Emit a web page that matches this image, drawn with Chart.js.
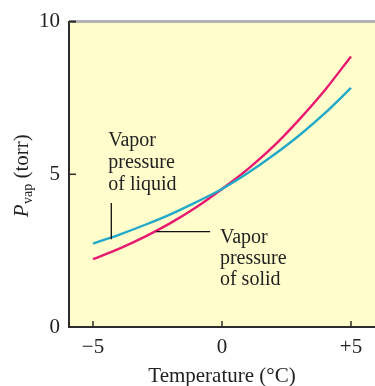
<!DOCTYPE html>
<html>
<head>
<meta charset="utf-8">
<script src="https://cdn.jsdelivr.net/npm/chart.js@4"></script>
<style>
  html, body { margin: 0; padding: 0; background: #ffffff; }
  #wrap { width: 375px; height: 386px; }
</style>
</head>
<body>
<div id="wrap"><canvas id="c" width="375" height="386"></canvas></div>
<script>
// Data
const temperatures = [-5, -4, -3, -2, -1, 0, 1, 2, 3, 4, 5];
const liquidPressure = [2.73, 3.02, 3.34, 3.69, 4.09, 4.52, 5.04, 5.63, 6.28, 7.01, 7.83];
const solidPressure  = [2.22, 2.56, 2.95, 3.40, 3.92, 4.52, 5.17, 5.92, 6.80, 7.77, 8.86];
const xTickValues = [-5, 0, 5];
const xTickLabels = ['\u22125', '0', '+5'];
const yTickValues = [0, 5, 10];
const yTickLabels = ['0', '5', '10'];
const seriesNames = ['Vapor pressure of liquid', 'Vapor pressure of solid'];
const liquidNote = ['Vapor', 'pressure', 'of liquid'];
const solidNote = ['Vapor', 'pressure', 'of solid'];

const SERIF = '"Liberation Serif", "DejaVu Serif", serif';
const AXIS = '#2b2b2b';
const TEXT = '#222222';

const toPts = (ys) => temperatures.map((t, i) => ({ x: t, y: ys[i] }));

const decor = {
  id: 'decor',
  beforeDraw(chart) {
    const { ctx, chartArea: a } = chart;
    ctx.save();
    ctx.fillStyle = '#fffdcc';
    ctx.fillRect(a.left, a.top, a.right - a.left, a.bottom - a.top);
    ctx.restore();
  },
  afterDraw(chart) {
    const { ctx, chartArea: a, scales } = chart;
    const xs = scales.x, ys = scales.y;
    ctx.save();
    // top gray border
    ctx.strokeStyle = '#b2b2b2';
    ctx.lineWidth = 3;
    ctx.beginPath();
    ctx.moveTo(a.left, a.top);
    ctx.lineTo(a.right, a.top);
    ctx.stroke();
    // inner ticks
    ctx.strokeStyle = AXIS;
    ctx.lineWidth = 1.5;
    xTickValues.forEach(v => {
      const px = xs.getPixelForValue(v);
      ctx.beginPath();
      ctx.moveTo(px, a.bottom);
      ctx.lineTo(px, a.bottom - 6);
      ctx.stroke();
    });
    yTickValues.forEach(v => {
      if (v === 0) return;
      const py = ys.getPixelForValue(v);
      ctx.lineWidth = v === 10 ? 2 : 1.5;
      ctx.beginPath();
      ctx.moveTo(a.left, py);
      ctx.lineTo(a.left + 7, py);
      ctx.stroke();
    });
    // annotations (leader lines in data coordinates)
    ctx.strokeStyle = '#111';
    ctx.lineWidth = 1.3;
    ctx.beginPath();
    ctx.moveTo(xs.getPixelForValue(-4.29), ys.getPixelForValue(4.06));
    ctx.lineTo(xs.getPixelForValue(-4.29), ys.getPixelForValue(2.87));
    ctx.stroke();
    ctx.beginPath();
    ctx.moveTo(xs.getPixelForValue(-2.55), ys.getPixelForValue(3.12));
    ctx.lineTo(xs.getPixelForValue(-0.46), ys.getPixelForValue(3.12));
    ctx.stroke();

    ctx.fillStyle = TEXT;
    ctx.font = '20px ' + SERIF;
    ctx.textAlign = 'left';
    ctx.textBaseline = 'alphabetic';
    const liqY = [5.94, 5.19, 4.49];
    liquidNote.forEach((s, i) => ctx.fillText(s, xs.getPixelForValue(-4.41), ys.getPixelForValue(liqY[i])));
    const solY = [2.76, 2.06, 1.38];
    solidNote.forEach((s, i) => ctx.fillText(s, xs.getPixelForValue(-0.08), ys.getPixelForValue(solY[i])));

    // y axis title: P_vap (torr)
    ctx.translate(22, 176);
    ctx.rotate(-Math.PI / 2);
    const fMain = 'italic 21px ' + SERIF;
    const fSub = '14px ' + SERIF;
    const fRest = '21px ' + SERIF;
    ctx.font = fMain; const w1 = ctx.measureText('P').width;
    ctx.font = fSub; const w2 = ctx.measureText('vap').width;
    ctx.font = fRest; const w3 = ctx.measureText(' (torr)').width;
    let x0 = -(w1 + w2 + w3) / 2;
    const base = 6;
    ctx.font = fMain; ctx.fillText('P', x0, base); x0 += w1 + 0.5;
    ctx.font = fSub; ctx.fillText('vap', x0, base + 4); x0 += w2;
    ctx.font = fRest; ctx.fillText(' (torr)', x0, base);
    ctx.restore();
  }
};

new Chart(document.getElementById('c'), {
  type: 'line',
  data: {
    datasets: [
      { label: seriesNames[0], data: toPts(liquidPressure), borderColor: '#22a8c8', borderWidth: 2.4,
        pointRadius: 0, tension: 0.4, cubicInterpolationMode: 'monotone', fill: false },
      { label: seriesNames[1], data: toPts(solidPressure), borderColor: '#e8196f', borderWidth: 2.4,
        pointRadius: 0, tension: 0.4, cubicInterpolationMode: 'monotone', fill: false }
    ]
  },
  options: {
    responsive: false,
    animation: false,
    devicePixelRatio: 1,
    layout: { padding: { top: 18, right: 0, left: 0, bottom: 0 } },
    plugins: { legend: { display: false }, tooltip: { enabled: false } },
    scales: {
      x: {
        type: 'linear', min: -5.93, max: 5.93,
        afterBuildTicks: (s) => { s.ticks = xTickValues.map(v => ({ value: v })); },
        afterFit: (s) => { s.height = 59; },
        grid: { display: false, drawTicks: false },
        border: { display: true, color: AXIS, width: 2 },
        ticks: {
          padding: 8, color: TEXT, font: { family: SERIF, size: 21 },
          maxRotation: 0, autoSkip: false,
          callback: (v) => xTickLabels[xTickValues.indexOf(v)]
        },
        title: { display: true, text: 'Temperature (\u00B0C)', color: TEXT,
                 font: { family: SERIF, size: 21 }, padding: { top: 0, bottom: -3 } }
      },
      y: {
        type: 'linear', min: 0, max: 10,
        afterBuildTicks: (s) => { s.ticks = yTickValues.map(v => ({ value: v })); },
        afterFit: (s) => { s.width = 69; },
        grid: { display: false, drawTicks: false },
        border: { display: true, color: AXIS, width: 2 },
        ticks: {
          padding: 9, color: TEXT, font: { family: SERIF, size: 21 },
          autoSkip: false,
          callback: (v) => yTickLabels[yTickValues.indexOf(v)]
        }
      }
    }
  },
  plugins: [decor]
});
</script>
</body>
</html>
